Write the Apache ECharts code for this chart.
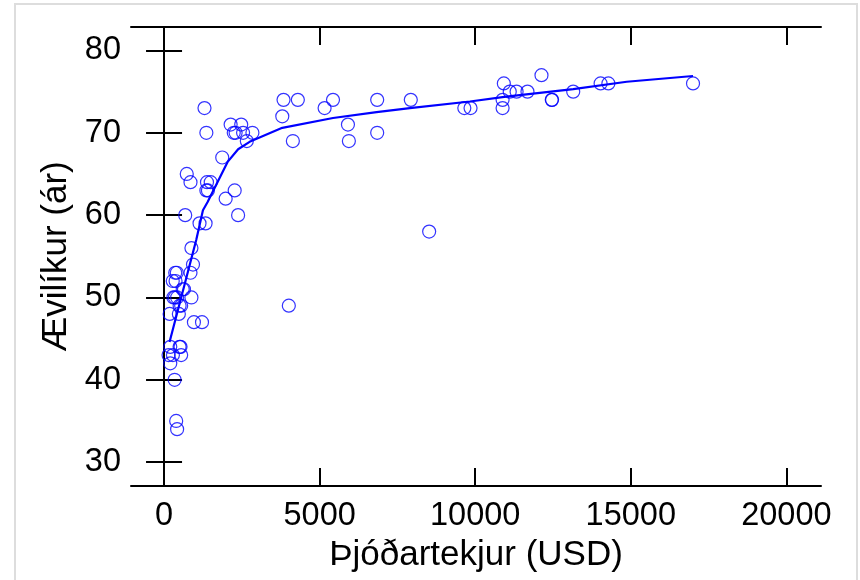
<!DOCTYPE html>
<html>
<head>
<meta charset="utf-8">
<script src="https://cdn.jsdelivr.net/npm/echarts@6/dist/echarts.min.js"></script>
<style>
  html, body { margin: 0; padding: 0; background: #fff; }
  #chart { width: 860px; height: 580px; }
</style>
</head>
<body>
<div id="chart"></div>
<script>
// þjóðartekjur á mann (USD) og ævilíkur (ár)
const income = [
  145, 200, 200, 180, 285, 280, 300, 340, 350, 360, 370, 390, 410, 420, 420, 476,
  500, 530, 500, 550, 550, 600, 640, 680, 730, 850, 850, 880, 880, 930, 960, 1140,
  1220, 1300, 1335, 1360, 1360, 1380, 1410, 1500, 1870, 1980, 2140, 2240, 2270, 2300,
  2380, 2480, 2540, 2660, 2840, 3800, 3840, 4010, 4140, 4300, 5160, 5430, 5910, 5940,
  6850, 6850, 7930, 8520, 9650, 9850, 10880, 10880, 10920, 11110, 11330, 11680, 12130,
  12460, 12470, 13150, 14030, 14280, 17000
]
const lifeExp = [
  43, 44, 42, 48, 43, 52, 50, 40, 50, 53, 52, 35, 53, 34, 50, 48,
  44, 44, 49, 49, 43, 51, 51, 60, 65, 53, 64, 56, 50, 54, 47, 59,
  47, 73, 59, 70, 63, 64, 63, 64, 67, 62, 71, 70, 63, 70,
  60, 71, 70, 69, 70, 72, 74, 49, 69, 74, 73, 74, 71, 69,
  74, 70, 74, 58, 73, 73, 74, 73, 76, 75, 75, 75, 77,
  74, 74, 75, 76, 76, 76
]
// útjöfnuð lína (lowess)
const smoothX = [177, 1036, 1250, 1400, 2050, 2380, 2750, 3800, 5430, 6830, 7900, 9830, 11000, 13150, 14870, 17000]
const smoothY = [44.6, 57.0, 60.6, 61.6, 66.5, 68.0, 68.9, 70.6, 71.8, 72.5, 73.0, 73.8, 74.4, 75.3, 76.2, 76.9]
const xTicks = [0, 5000, 10000, 15000, 20000]
const yTicks = [30, 40, 50, 60, 70, 80]

const myChart = echarts.init(document.getElementById('chart'))
const font = "'Liberation Sans', Arial, sans-serif"
const blue = '#0000ff'

const scatterData = income.map((v, i) => [v, lifeExp[i]])
const lineData = smoothX.map((v, i) => [v, smoothY[i]])

const axisLine = { show: true, lineStyle: { color: '#000', width: 2 } }
const tick = (vals) => ({ show: true, inside: true, length: 18, customValues: vals, lineStyle: { color: '#000', width: 2 } })

const option = {
  backgroundColor: '#fff',
  animation: false,
  textStyle: { fontFamily: font },
  grid: { left: 131, right: 39, top: 27, bottom: 94 },
  graphic: [{
    type: 'rect',
    shape: { x: 15, y: 4, width: 842, height: 590 },
    style: { fill: 'none', stroke: '#dddddd', lineWidth: 2 },
    silent: true
  }],
  xAxis: [
    {
      type: 'value',
      position: 'bottom',
      min: -1062,
      max: 21113,
      name: 'Þjóðartekjur (USD)',
      nameLocation: 'middle',
      nameGap: 51,
      nameTextStyle: { fontSize: 35, color: '#000', fontFamily: font },
      axisLine: axisLine,
      axisTick: tick(xTicks),
      axisLabel: {
        customValues: xTicks,
        fontSize: 32.5,
        color: '#000',
        margin: 14,
        fontFamily: font,
        formatter: (v) => String(v)
      },
      splitLine: { show: false }
    },
    {
      type: 'value',
      position: 'top',
      min: -1062,
      max: 21113,
      axisLine: axisLine,
      axisTick: tick(xTicks),
      axisLabel: { show: false },
      splitLine: { show: false }
    }
  ],
  yAxis: [
    {
      type: 'value',
      position: 'left',
      min: 27.1,
      max: 82.85,
      name: 'Ævilíkur (ár)',
      nameLocation: 'middle',
      nameGap: 53,
      nameTextStyle: { fontSize: 35, color: '#000', fontFamily: font },
      axisLine: axisLine,
      axisTick: tick(yTicks),
      axisLabel: { customValues: yTicks, fontSize: 32.5, color: '#000', margin: 10, fontFamily: font },
      splitLine: { show: false }
    },
    {
      type: 'value',
      position: 'right',
      min: 27.1,
      max: 82.85,
      axisLine: axisLine,
      axisTick: tick(yTicks),
      axisLabel: { show: false },
      splitLine: { show: false }
    }
  ],
  series: [
    {
      type: 'scatter',
      data: scatterData,
      symbol: 'circle',
      symbolSize: 13,
      itemStyle: { color: 'rgba(0,0,0,0)', borderColor: blue, borderWidth: 1.2 }
    },
    {
      type: 'line',
      data: lineData,
      showSymbol: false,
      smooth: false,
      lineStyle: { color: blue, width: 2.2 },
      z: 3
    }
  ]
}
myChart.setOption(option)
window.addEventListener('resize', () => {
  myChart.resize()
})
</script>
</body>
</html>
